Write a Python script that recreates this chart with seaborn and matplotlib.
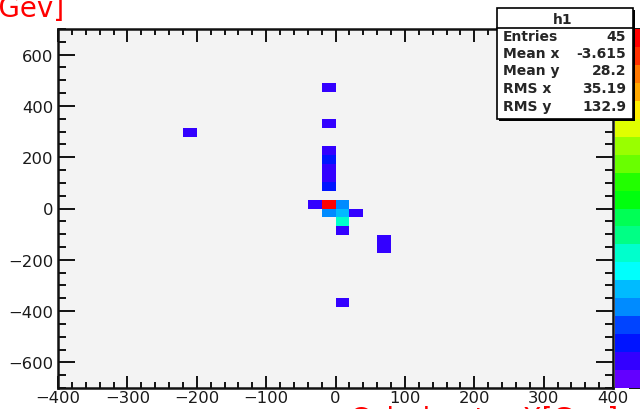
import colorsys
import numpy as np
import matplotlib
matplotlib.use("Agg")
import matplotlib.pyplot as plt
import seaborn as sns
from matplotlib.colors import ListedColormap
from matplotlib.patches import Rectangle
from matplotlib.lines import Line2D
from matplotlib.ticker import MultipleLocator

# ---- data: filled bins of TH2 "h1" (bin centre x, bin centre y, content) ----
cell_x = [-10, -10, -10, -10, -10, -10, -10, -30, -10, 10,
          -10, 10, 30, 10, 10, 70, 70, 10, -210]
cell_y = [472.5, 332.5, 227.5, 192.5, 157.5, 122.5, 87.5, 17.5, 17.5, 17.5,
          -17.5, -17.5, -17.5, -52.5, -87.5, -122.5, -157.5, -367.5, 297.5]
cell_n = [1, 1, 1, 2, 1, 1, 2, 1, 14, 3,
          3, 4, 1, 5, 1, 1, 1, 1, 1]

stat_names = ["Entries", "Mean x", "Mean y", "RMS x", "RMS y"]
stat_values = ["45", "-3.615", "28.2", "35.19", "132.9"]
hist_name = "h1"
x_title = "Calorimeter X[Gev]"
y_title = "Calorimeter Y[Gev]"

# ---- ROOT "pretty" palette, 20 contour levels ----
def root_pretty(k, nlev=20, ncol=50):
    idx = int((k + 0.99) * ncol / nlev)
    if idx >= ncol - 1:
        return (1.0, 0.0, 0.0)
    hue = 280.0 - (idx + 1) * 280.0 / ncol
    return colorsys.hls_to_rgb(hue / 360.0, 0.5, 1.0)

cmap = ListedColormap([root_pretty(k) for k in range(20)])

sns.set_theme(style="ticks")
plt.rcParams["font.family"] = ["DejaVu Sans"]

W, H = 640, 410
fig = plt.figure(figsize=(6.4, 4.1), dpi=100)
fig.patch.set_facecolor("white")

def fx(px):
    return px / W

def fy(py):
    return 1 - py / H

ax = fig.add_axes([fx(58), fy(389), (613 - 58) / W, (389 - 30) / H])
cax = fig.add_axes([fx(615), fy(389), 40 / W, (389 - 30) / H])
ax.set_facecolor("#f3f3f3")

sns.histplot(x=cell_x, y=cell_y, weights=cell_n,
             bins=(40, 40), binrange=((-400, 400), (-700, 700)),
             cmap=cmap, vmax=14, cbar=True, cbar_ax=cax, ax=ax)

for coll in ax.collections:
    coll.set_clim(0, 14)

ax.set_xlim(-400, 400)
ax.set_ylim(-700, 700)
ax.set_xlabel("")
ax.set_ylabel("")
ax.xaxis.set_major_locator(MultipleLocator(100))
ax.xaxis.set_minor_locator(MultipleLocator(20))
ax.yaxis.set_major_locator(MultipleLocator(200))
ax.yaxis.set_minor_locator(MultipleLocator(50))
ax.tick_params(which="both", direction="in", top=True, right=True,
               color="#111111", width=1.4)
ax.tick_params(axis="x", which="major", length=9, labelsize=11.8, pad=1.5,
               labelcolor="#1a1a1a")
ax.tick_params(axis="x", which="minor", length=4.5)
ax.tick_params(axis="y", which="major", length=12, labelsize=11.8, pad=3.5,
               labelcolor="#1a1a1a")
ax.tick_params(axis="y", which="minor", length=6)
for s in ax.spines.values():
    s.set_linewidth(1.8)
    s.set_color("#111111")

# colour bar (palette axis); its labels lie beyond the canvas in the reference
cax.set_ylim(0, 14)
cax.yaxis.set_ticks_position("right")
cax.set_yticks(np.arange(0, 15, 2))
cax.tick_params(axis="y", direction="in", length=19, width=1.4,
                color="#111111", labelright=False, labelleft=False)
cax.tick_params(axis="y", which="minor", length=0)
for s in cax.spines.values():
    s.set_visible(False)
try:
    cax.collections[0].colorbar.outline.set_visible(False)
except Exception:
    pass

# axis titles (partly outside the canvas, as in the reference)
fig.text(fx(64), fy(17), y_title, ha="right", va="baseline",
         color="red", fontsize=20)
fig.text(fx(618), fy(428), x_title, ha="right", va="baseline",
         color="red", fontsize=20)

# stats box
bx0, by0, bx1, by1 = 497, 9, 633, 120
fig.add_artist(Rectangle((fx(bx0 + 2), fy(by1 + 2)), (bx1 - bx0) / W,
                         (by1 - by0) / H, transform=fig.transFigure,
                         facecolor="black", edgecolor="none", zorder=10))
fig.add_artist(Rectangle((fx(bx0), fy(by1)), (bx1 - bx0) / W,
                         (by1 - by0) / H, transform=fig.transFigure,
                         facecolor="white", edgecolor="black", linewidth=1.2,
                         zorder=11))
fig.add_artist(Line2D([fx(bx0), fx(bx1)], [fy(29), fy(29)],
                      transform=fig.transFigure, color="black",
                      linewidth=1.2, zorder=12))
fig.text(fx(563), fy(19.5), hist_name, ha="center", va="center",
         fontsize=10, fontweight="bold", zorder=13)
rows = [37, 54, 71, 89, 107]
for name, val, ry in zip(stat_names, stat_values, rows):
    fig.text(fx(503), fy(ry), name, ha="left", va="center",
             fontsize=10, fontweight="bold", zorder=13)
    fig.text(fx(626), fy(ry), val, ha="right", va="center",
             fontsize=10, fontweight="bold", zorder=13)

fig.savefig("out.png", dpi=100)
